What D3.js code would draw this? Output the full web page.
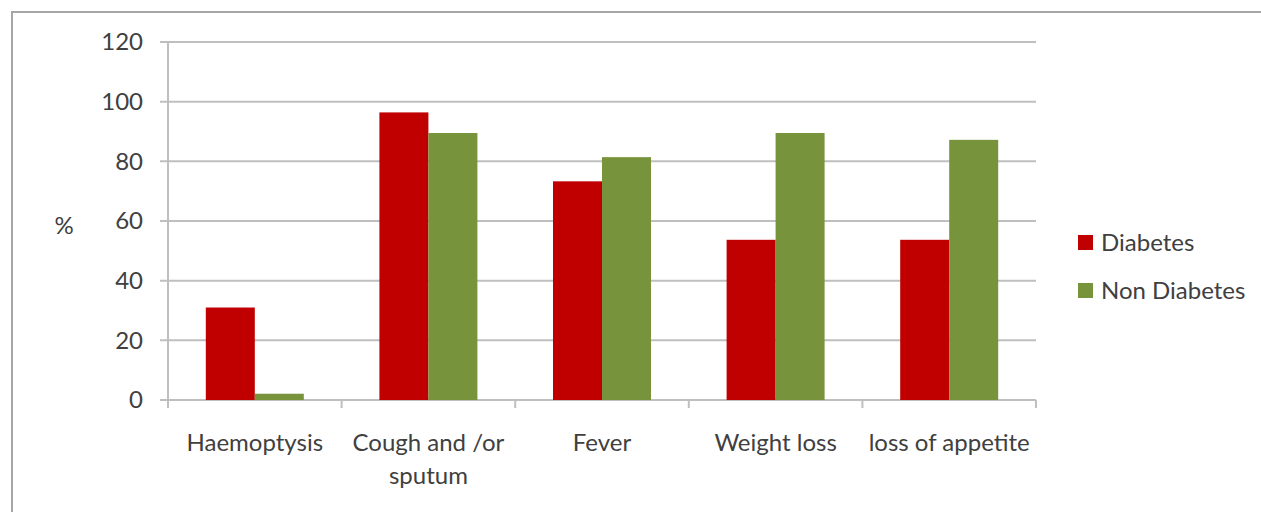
<!DOCTYPE html>
<html><head><meta charset="utf-8">
<script src="https://cdn.jsdelivr.net/npm/d3@7/dist/d3.min.js"></script>
<style>body{margin:0;background:#fff}svg{display:block}text{font-family:Lato,"Open Sans",sans-serif;fill:#404040}</style>
</head><body>
<svg id="c" width="1261" height="512"></svg>
<script>
const categories = [["Haemoptysis"], ["Cough and /or", "sputum"], ["Fever"], ["Weight loss"], ["loss of appetite"]];
const diabetes = [31, 96.4, 73.3, 53.7, 53.7];
const nonDiabetes = [2.1, 89.5, 81.4, 89.5, 87.2];
const seriesNames = ["Diabetes", "Non Diabetes"];
const colors = ["#C00000", "#77933C"];
const yTicks = [0, 20, 40, 60, 80, 100, 120];

(function () {
const svg = d3.select("#c");
const pL = 168, pR = 1036, pT = 42, pB = 400;
const fs = 24;

svg.append("rect").attr("x", 12).attr("y", 12).attr("width", 1300).attr("height", 600)
  .attr("fill", "none").attr("stroke", "#a6a6a6").attr("stroke-width", 2);

const x = d3.scaleBand().domain(d3.range(categories.length)).range([pL, pR]).paddingInner(0).paddingOuter(0);
const y = d3.scaleLinear().domain([0, 120]).range([pB, pT]);
const groupW = 98;
const xs = d3.scaleBand().domain([0, 1]).range([0, groupW]).padding(0);

svg.append("g").selectAll("line").data(yTicks).join("line")
  .attr("x1", pL - 8).attr("x2", pR).attr("y1", d => y(d)).attr("y2", d => y(d))
  .attr("stroke", "#bfbfbf").attr("stroke-width", 2);

svg.append("g").selectAll("text").data(yTicks).join("text")
  .attr("x", 143).attr("y", d => y(d)).attr("dy", "0.35em").attr("text-anchor", "end")
  .attr("font-size", fs).text(d => d);

svg.append("line").attr("x1", pL).attr("x2", pL).attr("y1", pT).attr("y2", pB + 8)
  .attr("stroke", "#bfbfbf").attr("stroke-width", 2);

const bounds = d3.range(categories.length + 1).map(i => i < categories.length ? x(i) : pR);
svg.append("g").selectAll("line").data(bounds).join("line")
  .attr("x1", d => d).attr("x2", d => d).attr("y1", pB).attr("y2", pB + 8)
  .attr("stroke", "#bfbfbf").attr("stroke-width", 2);

const series = [diabetes, nonDiabetes];
series.forEach((vals, si) => {
  svg.append("g").selectAll("rect").data(vals).join("rect")
    .attr("x", (d, i) => x(i) + (x.bandwidth() - groupW) / 2 + xs(si))
    .attr("width", xs.bandwidth())
    .attr("y", d => y(d)).attr("height", d => pB - y(d))
    .attr("fill", colors[si]);
});

const cl = svg.append("g").selectAll("text").data(categories).join("text")
  .attr("x", (d, i) => x(i) + x.bandwidth() / 2).attr("y", 451)
  .attr("text-anchor", "middle").attr("font-size", fs);
cl.selectAll("tspan").data(d => d).join("tspan")
  .attr("x", function () { return this.parentNode.getAttribute("x"); })
  .attr("dy", (d, i) => i === 0 ? 0 : 33).text(d => d);

svg.append("text").attr("x", 64).attr("y", 226).attr("dy", "0.35em").attr("text-anchor", "middle")
  .attr("font-size", fs).text("%");

const lg = svg.append("g").selectAll("g").data(seriesNames).join("g")
  .attr("transform", (d, i) => `translate(1078,${242.5 + i * 48})`);
lg.append("rect").attr("x", 0).attr("y", -7.5).attr("width", 15).attr("height", 15).attr("fill", (d, i) => colors[i]);
lg.append("text").attr("x", 23).attr("dy", "0.35em").attr("font-size", fs).text(d => d);
})();
</script>
</body></html>
